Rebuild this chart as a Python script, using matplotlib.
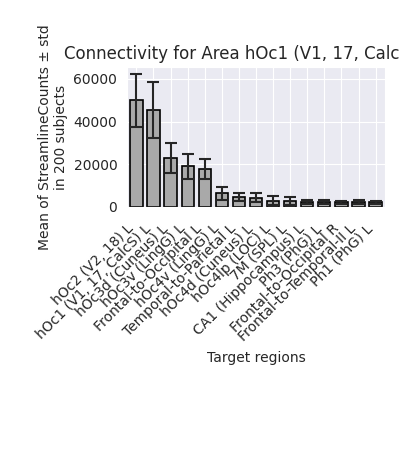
import matplotlib
matplotlib.use("Agg")
import matplotlib.pyplot as plt
import seaborn as sns

regions = ["hOc2 (V2, 18) L", "hOc1 (V1, 17, CalcS) L", "hOc3d (Cuneus) L",
           "hOc3v (LingG) L", "Frontal-to-Occipital L", "hOc4v (LingG) L",
           "Temporal-to-Parietal L", "hOc4d (Cuneus) L", "hOc4lp (LOC) L",
           "7M (SPL) L", "CA1 (Hippocampus) L", "Ph3 (PhG) L",
           "Frontal-to-Occipital R", "Frontal-to-Temporal-II L", "Ph1 (PhG) L"]
means = [50000, 45400, 23000, 19000, 17900, 6400, 4800, 4400, 3000, 2800,
         2300, 2300, 2200, 2200, 2200]
stds = [12400, 12900, 7000, 5800, 4650, 3100, 1900, 2000, 2000, 1800,
        900, 900, 800, 850, 800]

sns.set_style("darkgrid")
fig = plt.figure(figsize=(4, 4.5), dpi=100)
ax = fig.add_axes([0.3175, 0.54, 0.645, 0.311])

x = range(len(regions))
ax.bar(x, means, width=0.72, color="darkgray", edgecolor="black", linewidth=1.2,
       yerr=stds, capsize=4, error_kw=dict(ecolor="#262626", elinewidth=1.5, capthick=1.5))
ax.set_xticks(list(x))
ax.set_xticklabels(regions, rotation=45, ha="right")
ax.tick_params(axis="x", pad=7)
ax.set_xlim(-0.55, len(regions) - 0.45)
ax.set_xlabel("Target regions", labelpad=5)
ax.set_ylabel("Mean of StreamlineCounts ± std\nin 200 subjects")
ax.set_title("Connectivity for Area hOc1 (V1, 17, CalcS) left")

fig.savefig("out.png", dpi=100)
